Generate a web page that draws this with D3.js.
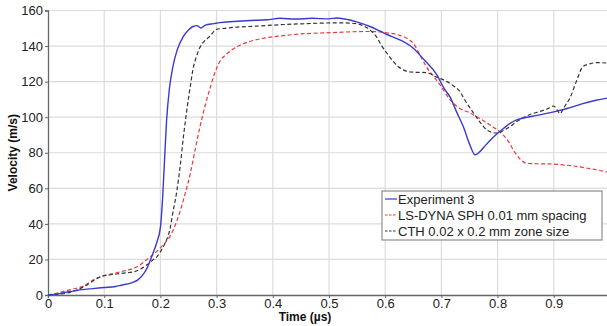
<!DOCTYPE html>
<html>
<head>
<meta charset="utf-8">
<script src="https://cdn.jsdelivr.net/npm/d3@7"></script>
<style>
body { margin: 0; background: #fff; }
svg { font-family: "Liberation Sans", Arial, sans-serif; }
</style>
</head>
<body>
<div id="chart"></div>
<script>
var xTicks = [0, 0.1, 0.2, 0.3, 0.4, 0.5, 0.6, 0.7, 0.8, 0.9];
var yTicks = [0, 20, 40, 60, 80, 100, 120, 140, 160];
var seriesNames = ["Experiment 3", "LS-DYNA SPH 0.01 mm spacing", "CTH 0.02 x 0.2 mm zone size"];

// [time (us), velocity (m/s)]
var experiment = [
  [0, 0], [0.02, 0.8], [0.03, 1.5], [0.045, 2.2], [0.06, 3], [0.08, 3.6], [0.1, 4.2],
  [0.12, 4.8], [0.13, 5.5], [0.15, 7], [0.16, 8.5], [0.168, 11], [0.176, 15],
  [0.185, 22], [0.193, 29], [0.2, 38], [0.204, 55], [0.208, 80], [0.211, 98],
  [0.216, 116], [0.222, 128], [0.23, 138], [0.24, 145], [0.25, 149], [0.258, 151],
  [0.265, 151.5], [0.272, 150.2], [0.28, 151.8], [0.295, 152.6], [0.306, 153.2],
  [0.33, 153.8], [0.36, 154.4], [0.39, 154.8], [0.413, 155.6], [0.44, 155.2],
  [0.47, 155.6], [0.5, 155.3], [0.514, 155.8], [0.535, 154.8], [0.555, 153],
  [0.573, 151], [0.59, 148.5], [0.603, 146.5], [0.626, 143.5], [0.65, 138.8],
  [0.67, 132], [0.692, 123.8], [0.705, 116], [0.715, 111.6], [0.727, 103],
  [0.739, 94.7], [0.75, 85], [0.76, 78.8], [0.768, 80.5], [0.778, 84], [0.79, 88],
  [0.8, 91], [0.81, 93.5], [0.822, 96.5], [0.834, 98.5], [0.85, 99.8], [0.87, 101],
  [0.9, 103], [0.925, 105], [0.95, 107.5], [0.975, 109.5], [1.0, 111]
];
var lsdyna = [
  [0, 0], [0.015, 1], [0.033, 2.5], [0.05, 3.8], [0.063, 5], [0.078, 8], [0.093, 10.2],
  [0.108, 11.5], [0.122, 12.5], [0.137, 13.7], [0.152, 15], [0.165, 17.2],
  [0.176, 20], [0.188, 23], [0.2, 26.5], [0.21, 30], [0.217, 33], [0.226, 39],
  [0.235, 47], [0.244, 57], [0.253, 68], [0.262, 82], [0.27, 94], [0.28, 107],
  [0.288, 116], [0.297, 125], [0.306, 131.5], [0.318, 135.5], [0.33, 138.5],
  [0.345, 141], [0.36, 142.7], [0.385, 144.5], [0.413, 145.7], [0.45, 146.8],
  [0.507, 147.6], [0.567, 148.2], [0.59, 148], [0.603, 147.4], [0.615, 147],
  [0.626, 146], [0.638, 144.5], [0.65, 141.5], [0.662, 135], [0.674, 128],
  [0.686, 123], [0.698, 118], [0.715, 110], [0.73, 105.5], [0.751, 102.4],
  [0.775, 98], [0.792, 94.5], [0.81, 90], [0.82, 86], [0.83, 80.5], [0.84, 76.5],
  [0.852, 74], [0.87, 73.8], [0.893, 73.7], [0.915, 73.2], [0.934, 72.6],
  [0.96, 71.3], [0.98, 70.2], [1.0, 68.8]
];
var cth = [
  [0, 0], [0.02, 0.5], [0.033, 1], [0.048, 2.5], [0.063, 4.5], [0.078, 7.5], [0.093, 10.2],
  [0.108, 11.2], [0.122, 11.8], [0.137, 12.4], [0.152, 13], [0.165, 14.6],
  [0.176, 17], [0.186, 19.5], [0.194, 21.6], [0.203, 26], [0.211, 31], [0.217, 37],
  [0.222, 46], [0.229, 58], [0.235, 72], [0.241, 89], [0.247, 104], [0.253, 117],
  [0.258, 127], [0.264, 134], [0.27, 139], [0.279, 143], [0.288, 145.5],
  [0.3, 149.4], [0.315, 150], [0.33, 150.5], [0.37, 151.2], [0.413, 152],
  [0.46, 152.6], [0.507, 153], [0.53, 153], [0.55, 152.5], [0.562, 151.2],
  [0.573, 149], [0.585, 145], [0.594, 140], [0.603, 136], [0.614, 131.5],
  [0.623, 128.5], [0.632, 126.6], [0.645, 125.4], [0.674, 125], [0.692, 122.5],
  [0.71, 120], [0.722, 117.5], [0.733, 114.4], [0.742, 109.5], [0.757, 102.4],
  [0.768, 97.5], [0.78, 93], [0.79, 91.5], [0.799, 91], [0.81, 92.5], [0.822, 94.7],
  [0.833, 97.3], [0.845, 99.6], [0.86, 101.8], [0.875, 103.2], [0.888, 104.6],
  [0.9, 106.3], [0.906, 104], [0.911, 102], [0.918, 105.5], [0.929, 111],
  [0.94, 120], [0.952, 128.5], [0.964, 130], [0.977, 130.7], [1.0, 130.3]
];
var seriesData = [experiment, lsdyna, cth];
var seriesColors = ["#3a3ad0", "#e83a3a", "#333333"];
var seriesDash = [null, "4,2.5", "4,2.5"];

var width = 607, height = 326;
var margin = { top: 10.5, right: -3, bottom: 31, left: 48 };

var svg = d3.select("#chart").append("svg")
  .attr("width", width).attr("height", height);

var x = d3.scaleLinear().domain([0, 1]).range([margin.left, width - margin.right]);
var y = d3.scaleLinear().domain([0, 160]).range([height - margin.bottom, margin.top]);

// grid
svg.append("g").selectAll("line.gx")
  .data(xTicks.slice(1).concat([1]))
  .enter().append("line")
  .attr("x1", function (d) { return x(d); }).attr("x2", function (d) { return x(d); })
  .attr("y1", y(0)).attr("y2", y(160))
  .attr("stroke", "#dcdcdc").attr("stroke-width", 1.2);
svg.append("g").selectAll("line.gy")
  .data(yTicks.slice(1))
  .enter().append("line")
  .attr("x1", x(0)).attr("x2", x(1))
  .attr("y1", function (d) { return y(d); }).attr("y2", function (d) { return y(d); })
  .attr("stroke", "#dcdcdc").attr("stroke-width", 1.2);

// axes
var xAxis = svg.append("g")
  .attr("transform", "translate(0," + y(0) + ")")
  .call(d3.axisBottom(x).tickValues(xTicks).tickSize(3)
    .tickFormat(function (d) { return d === 0 ? "0" : d3.format(".1f")(d); }));
var yAxis = svg.append("g")
  .attr("transform", "translate(" + x(0) + ",0)")
  .call(d3.axisLeft(y).tickValues(yTicks).tickSize(3).tickFormat(d3.format("d")));

[xAxis, yAxis].forEach(function (a) {
  a.select(".domain").attr("stroke", "#666").attr("stroke-width", 1.3);
  a.selectAll(".tick line").attr("stroke", "#666");
  a.selectAll(".tick text").attr("font-size", "13px").attr("fill", "#222")
    .attr("font-family", "'Liberation Sans', Arial, sans-serif");
});
xAxis.selectAll(".tick text").attr("dy", "0.55em");
yAxis.selectAll(".tick text").attr("dx", "1px");

// lines
var line = d3.line()
  .x(function (d) { return x(d[0]); })
  .y(function (d) { return y(d[1]); })
  .curve(d3.curveMonotoneX);

var drawOrder = [1, 2, 0];
drawOrder.forEach(function (i) {
  svg.append("path")
    .datum(seriesData[i])
    .attr("d", line)
    .attr("fill", "none")
    .attr("stroke", seriesColors[i])
    .attr("stroke-width", i === 0 ? 1.4 : 1.2)
    .attr("stroke-dasharray", seriesDash[i]);
});

// axis labels
svg.append("text")
  .attr("x", 305).attr("y", 321)
  .attr("text-anchor", "middle")
  .attr("font-size", "12px").attr("font-weight", "bold").attr("fill", "#111")
  .text("Time (\u00b5s)");
svg.append("text")
  .attr("transform", "translate(17," + y(80) + ") rotate(-90)")
  .attr("text-anchor", "middle")
  .attr("font-size", "12px").attr("font-weight", "bold").attr("fill", "#111")
  .text("Velocity (m/s)");

// legend
var legend = svg.append("g").attr("transform", "translate(382,191)");
legend.append("rect")
  .attr("width", 220).attr("height", 49)
  .attr("fill", "#fff").attr("stroke", "#777").attr("stroke-width", 1);
seriesNames.forEach(function (name, i) {
  var ly = 8 + i * 16;
  legend.append("line")
    .attr("x1", 3).attr("x2", 15).attr("y1", ly).attr("y2", ly)
    .attr("stroke", seriesColors[i]).attr("stroke-width", 1.2)
    .attr("stroke-dasharray", i === 0 ? null : "2.5,1.5");
  legend.append("text")
    .attr("x", 16).attr("y", ly + 4.5)
    .attr("font-size", "13px").attr("fill", "#222")
    .text(name);
});
</script>
</body>
</html>
